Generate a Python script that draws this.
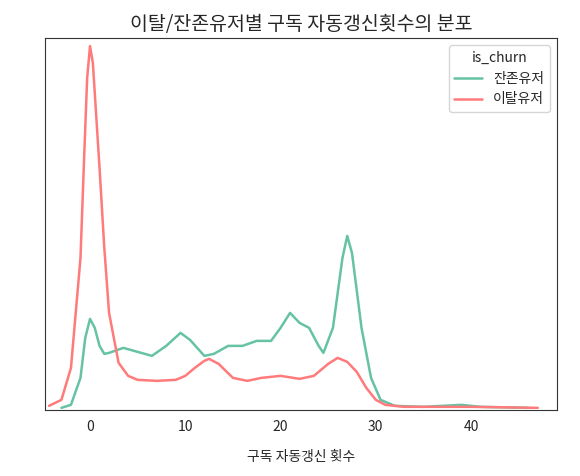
import numpy as np, pandas as pd, seaborn as sns, matplotlib
matplotlib.use("Agg")
import matplotlib.pyplot as plt

stay_x = [-3,-2,-1,-0.5,0,0.5,1,1.5,2,3.5,5,6.5,8,9.5,10.5,12,13,14.5,16,17.5,19,20,21,22,23,24,24.5,25.5,26.5,27,27.5,28.5,29.5,30.5,32,35,39,41,46]
stay_y = [0,3,30,70,89,80,62,54,55,60,56,52,62,75,68,52,54,62,62,67,67,80,95,85,80,62,55,80,150,172,155,80,30,8,2,1,3,1,0]
churn_x = [-4.3,-3,-2,-1,-0.6,-0.3,0,0.3,0.6,1,1.5,2,3,4,5,7,9,10,11,12,12.5,13.5,15,16.5,18,20,22,23.5,25,26,27,28,29,30,31,33,38,40,47]
churn_y = [2,8,40,150,255,330,362,345,300,240,160,95,45,32,28,27,28,32,40,47,49,44,30,27,30,32,29,32,44,50,46,36,20,8,3,1,1,1,0]

df = pd.concat([
    pd.DataFrame({"x": stay_x, "Density": np.array(stay_y)/1000, "is_churn": "잔존유저"}),
    pd.DataFrame({"x": churn_x, "Density": np.array(churn_y)/1000, "is_churn": "이탈유저"}),
])
sns.set_style("white")
plt.rcParams['font.family'] = ['Noto Sans CJK KR', 'DejaVu Sans']
fig, ax = plt.subplots(figsize=(5.8, 4.76), dpi=100)
sns.lineplot(data=df, x="x", y="Density", hue="is_churn", palette={"잔존유저": "#66c2a5", "이탈유저": "#ff7a7a"},
             linewidth=1.8, ax=ax, sort=False)
ax.set_yticks([]); ax.set_ylabel("")
ax.set_xlabel("구독 자동갱신 횟수", labelpad=12)
ax.set_ylim(-0.002, 0.37)
ax.set_xlim(-4.7, 49)
ax.set_xticks([0,10,20,30,40])
ax.set_title("이탈/잔존유저별 구독 자동갱신횟수의 분포", fontsize=14)
ax.legend(title="is_churn", loc="upper right")
for s in ax.spines.values(): s.set_color("#333333")
fig.subplots_adjust(left=0.078, right=0.96, top=0.92, bottom=0.139)
fig.savefig("out.png")
